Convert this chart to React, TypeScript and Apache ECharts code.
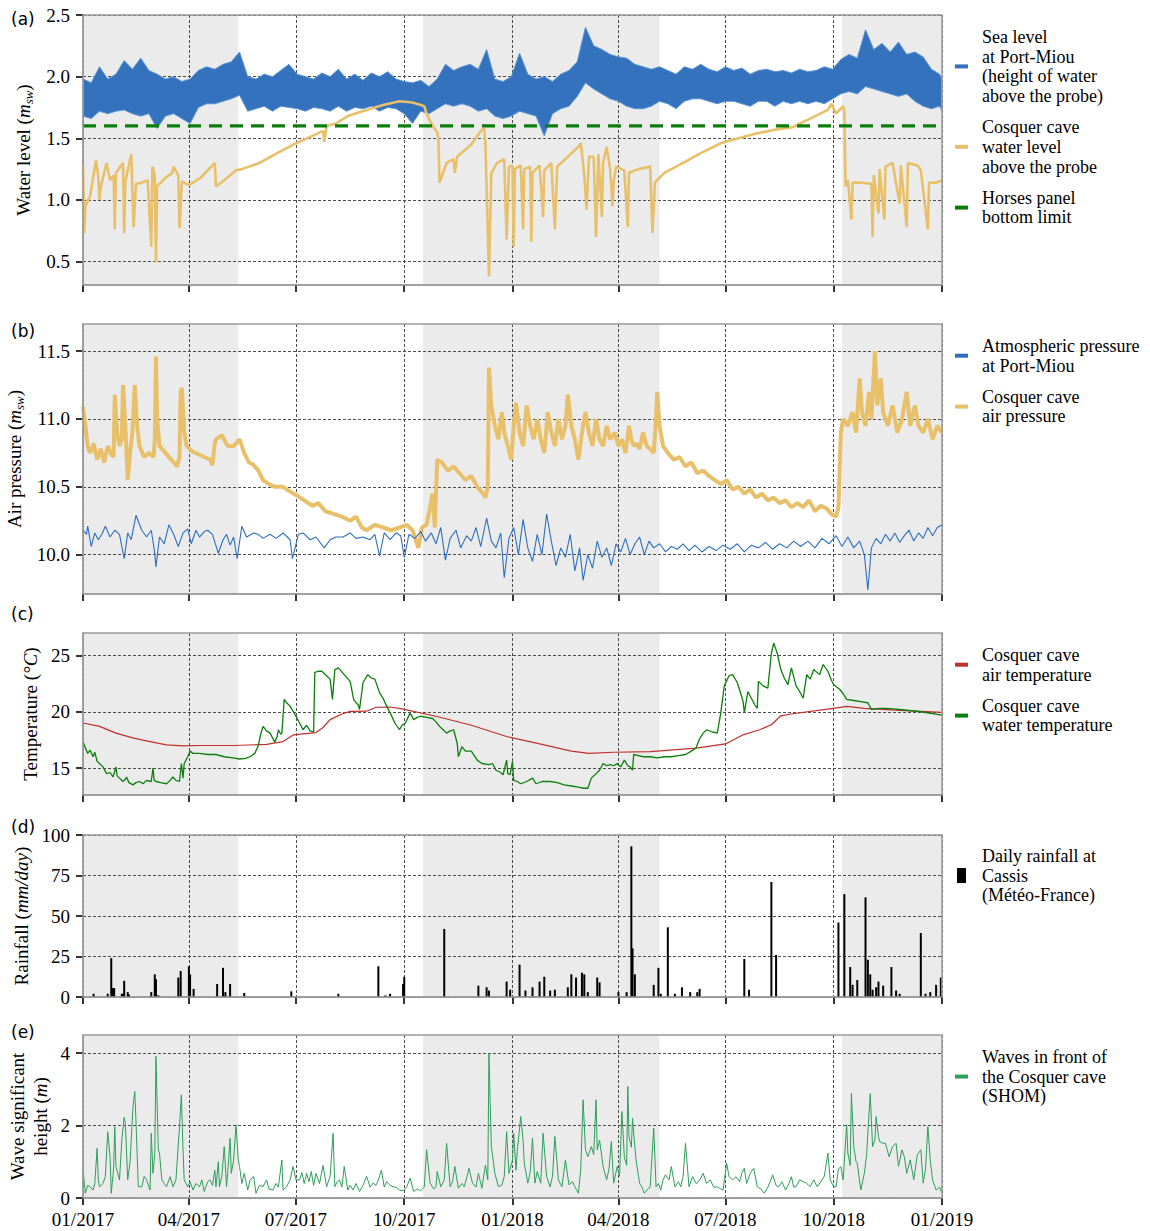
import React, { useEffect, useRef } from 'react';
import * as echarts from 'echarts';

const SERIF = "'Liberation Serif', 'Times New Roman', Times, serif";
const SANS = "'DejaVu Sans', 'Noto Sans', sans-serif";

// ---- x axis (days since 2017-01-01) ----
const quarterDays = [0, 90, 181, 273, 365, 455, 546, 638, 730];
const quarterLabels = ['01/2017', '04/2017', '07/2017', '10/2017', '01/2018', '04/2018', '07/2018', '10/2018', '01/2019'];
const shadeStart = [0, 289, 645];
const shadeEnd = [132, 490, 730];

// ---- y tick values ----
const yTicksA = [0.5, 1.0, 1.5, 2.0, 2.5];
const yTicksB = [10.0, 10.5, 11.0, 11.5];
const yTicksC = [15, 20, 25];
const yTicksD = [0, 25, 50, 75, 100];
const yTicksE = [0, 2, 4];

// ---- (a) water levels ----
const seaDays = [...Array(105).keys()].map((k) => k * 7).concat([730]);
const seaHigh = [
  1.98, 1.95, 2.08, 1.98, 2.02, 2.13, 2.06, 2.15, 2.05, 2.02,
  1.98, 2.00, 1.96, 1.98, 2.05, 2.08, 2.06, 2.10, 2.12, 2.20,
  2.00, 1.98, 2.02, 2.00, 2.05, 2.10, 2.02, 2.00, 1.98, 2.03,
  2.00, 2.06, 1.98, 2.02, 1.97, 2.03, 2.00, 2.04, 1.98, 1.96,
  1.95, 1.97, 1.92, 1.98, 2.10, 2.05, 2.08, 2.10, 2.06, 2.22,
  1.98, 1.96, 2.00, 2.19, 2.02, 1.98, 2.00, 1.96, 2.02, 2.05,
  2.12, 2.40, 2.25, 2.22, 2.18, 2.16, 2.15, 2.10, 2.08, 2.06,
  2.08, 2.05, 2.02, 2.08, 2.06, 2.10, 2.06, 2.04, 2.08, 2.05,
  2.07, 2.02, 2.05, 2.06, 2.04, 2.05, 2.03, 2.06, 2.04, 2.05,
  2.08, 2.06, 2.14, 2.18, 2.15, 2.38, 2.22, 2.27, 2.20, 2.28,
  2.18, 2.20, 2.16, 2.06, 2.02, 1.98,
];
const seaLow = [
  1.68, 1.66, 1.72, 1.70, 1.72, 1.73, 1.70, 1.68, 1.70, 1.58,
  1.68, 1.70, 1.66, 1.62, 1.75, 1.78, 1.78, 1.80, 1.82, 1.85,
  1.72, 1.74, 1.76, 1.72, 1.76, 1.75, 1.74, 1.72, 1.75, 1.74,
  1.72, 1.76, 1.72, 1.75, 1.74, 1.76, 1.72, 1.75, 1.74, 1.70,
  1.62, 1.72, 1.70, 1.74, 1.78, 1.76, 1.78, 1.76, 1.72, 1.74,
  1.68, 1.66, 1.68, 1.72, 1.70, 1.68, 1.52, 1.70, 1.74, 1.76,
  1.84, 1.95, 1.90, 1.86, 1.82, 1.80, 1.76, 1.74, 1.74, 1.76,
  1.80, 1.78, 1.74, 1.80, 1.82, 1.82, 1.80, 1.78, 1.80, 1.80,
  1.78, 1.76, 1.80, 1.80, 1.76, 1.80, 1.78, 1.80, 1.78, 1.80,
  1.78, 1.82, 1.86, 1.88, 1.86, 1.92, 1.90, 1.88, 1.86, 1.84,
  1.86, 1.80, 1.76, 1.74, 1.76, 1.72,
];
const caveWaterLevel = [
  [0, 1.27], [1, 0.73], [2, 0.95], [6, 1.03], [11, 1.32], [13, 1.19], [14, 1.0], [15, 1.1], [20, 1.30], [23, 1.16],
  [26, 1.2], [27, 0.76], [28, 1.22], [34, 1.3], [35, 0.73], [36, 1.15], [41, 1.37], [43, 0.78], [45, 1.13], [50, 1.14],
  [55, 1.16], [58, 0.62], [59, 1.27], [61, 1.2], [62, 0.49], [63, 1.11], [70, 1.18], [76, 1.22], [77, 1.27], [81, 1.2],
  [82, 0.77], [84, 1.15], [90, 1.12], [100, 1.18], [110, 1.28], [112, 1.30], [113, 1.11], [120, 1.16], [130, 1.24], [135, 1.25],
  [150, 1.3], [165, 1.38], [181, 1.46], [195, 1.52], [204, 1.56], [205, 1.47], [207, 1.6], [215, 1.62], [225, 1.68], [241, 1.73],
  [255, 1.77], [269, 1.8], [280, 1.79], [287, 1.77], [290, 1.76], [292, 1.70], [296, 1.62], [298, 1.59], [301, 1.55], [302, 1.5],
  [303, 1.14], [309, 1.30], [315, 1.33], [316, 1.22], [318, 1.35], [330, 1.45], [339, 1.57], [341, 1.58], [342, 1.45], [345, 0.38],
  [347, 1.22], [352, 1.3], [358, 1.33], [360, 0.68], [362, 1.27], [365, 1.28], [366, 0.62], [367, 1.25], [372, 1.28], [374, 0.76],
  [375, 1.25], [380, 1.27], [381, 0.66], [382, 1.22], [388, 1.28], [391, 0.86], [392, 1.24], [398, 1.3], [401, 0.76], [403, 1.27],
  [412, 1.35], [421, 1.43], [423, 1.46], [426, 1.2], [428, 0.92], [430, 1.35], [434, 1.35], [436, 0.70], [438, 1.37], [441, 0.86],
  [442, 1.3], [445, 1.43], [448, 1.25], [450, 0.95], [451, 1.15], [453, 1.27], [460, 1.24], [463, 0.78], [464, 1.22], [472, 1.25],
  [482, 1.27], [484, 0.73], [486, 1.14], [494, 1.22], [510, 1.3], [525, 1.38], [542, 1.46], [557, 1.5], [573, 1.54], [588, 1.57],
  [603, 1.59], [618, 1.66], [633, 1.73], [636, 1.78], [640, 1.70], [646, 1.76], [647, 1.72], [648, 1.11], [650, 1.16], [653, 0.84],
  [654, 1.14], [662, 1.14], [670, 1.13], [671, 0.70], [672, 1.2], [676, 0.89], [677, 1.25], [681, 0.84], [682, 1.27], [688, 1.3],
  [694, 0.97], [695, 1.28], [700, 0.78], [701, 1.3], [709, 1.28], [712, 1.24], [718, 0.76], [719, 1.14], [725, 1.14], [730, 1.16],
];
const horsesPanelLimit = [[0, 1.6], [730, 1.6]];

// ---- (b) pressures ----
const atmPressure = [
  [0, 10.18], [3, 10.15], [4, 10.21], [7, 10.06], [10, 10.16], [13, 10.11], [16, 10.15], [19, 10.21], [23, 10.13], [27, 10.18],
  [31, 10.15], [35, 9.97], [38, 10.16], [41, 10.11], [45, 10.29], [50, 10.18], [54, 10.13], [58, 10.18], [61, 10.01], [62, 9.91],
  [65, 10.13], [69, 10.08], [73, 10.22], [77, 10.15], [81, 10.06], [85, 10.16], [89, 10.19], [92, 10.08], [96, 10.18], [99, 10.13],
  [103, 10.17], [106, 10.18], [110, 10.15], [115, 10.01], [119, 10.11], [122, 10.15], [125, 10.07], [128, 10.13], [131, 9.97], [135, 10.21],
  [139, 10.13], [145, 10.16], [149, 10.15], [153, 10.12], [159, 10.15], [164, 10.12], [170, 10.16], [176, 10.11], [178, 9.97], [183, 10.15],
  [187, 10.16], [193, 10.11], [198, 10.13], [205, 10.05], [210, 10.11], [215, 10.13], [221, 10.13], [227, 10.16], [232, 10.12], [238, 10.13],
  [244, 10.11], [248, 10.15], [252, 9.99], [256, 10.16], [261, 10.11], [266, 10.16], [270, 10.14], [273, 9.98], [277, 10.15], [282, 10.12],
  [287, 10.17], [291, 10.1], [296, 10.16], [300, 10.08], [304, 10.2], [308, 9.96], [312, 10.12], [317, 10.18], [321, 10.05], [326, 10.14],
  [330, 10.1], [334, 10.2], [338, 10.06], [343, 10.27], [347, 10.1], [351, 10.05], [355, 10.16], [358, 9.83], [362, 10.12], [366, 10.2],
  [370, 10.0], [374, 10.26], [378, 10.05], [382, 9.95], [386, 10.15], [390, 10.0], [394, 10.3], [398, 10.1], [402, 9.92], [406, 10.05],
  [410, 9.98], [414, 10.15], [418, 9.88], [422, 10.05], [425, 9.81], [429, 10.0], [433, 9.9], [437, 10.1], [441, 9.98], [445, 10.05],
  [449, 9.92], [453, 10.08], [457, 10.02], [461, 10.12], [465, 10.0], [469, 10.08], [473, 10.13], [477, 10.0], [481, 10.1], [485, 10.05],
  [490, 10.08], [495, 10.02], [500, 10.06], [505, 10.04], [510, 10.08], [515, 10.03], [520, 10.07], [526, 10.02], [532, 10.06], [538, 10.03],
  [544, 10.07], [550, 10.04], [556, 10.08], [562, 10.02], [568, 10.07], [574, 10.05], [580, 10.09], [586, 10.04], [592, 10.08], [598, 10.05],
  [604, 10.1], [610, 10.06], [616, 10.1], [622, 10.05], [628, 10.12], [634, 10.08], [640, 10.14], [645, 10.06], [650, 10.13], [655, 10.05],
  [660, 10.1], [664, 10.0], [667, 9.74], [670, 10.05], [674, 10.12], [678, 10.08], [682, 10.15], [686, 10.1], [690, 10.16], [694, 10.09],
  [698, 10.14], [702, 10.18], [706, 10.1], [710, 10.16], [714, 10.12], [718, 10.2], [722, 10.14], [726, 10.2], [730, 10.22],
];
const caveAirPressure = [
  [0, 11.09], [2, 10.95], [4, 10.8], [6, 10.75], [9, 10.82], [12, 10.7], [15, 10.78], [18, 10.68], [21, 10.8], [24, 10.74],
  [26, 10.72], [27, 11.18], [29, 10.9], [31, 10.8], [33, 10.85], [34, 11.25], [36, 10.95], [38, 10.55], [40, 10.75], [42, 10.9],
  [44, 11.25], [46, 10.95], [48, 10.8], [52, 10.72], [56, 10.75], [60, 10.72], [61, 10.85], [62, 11.46], [63, 11.0], [65, 10.8],
  [70, 10.75], [75, 10.7], [80, 10.65], [82, 10.72], [83, 11.2], [84, 11.23], [86, 10.9], [88, 10.8], [93, 10.76], [98, 10.74],
  [103, 10.72], [108, 10.7], [110, 10.66], [112, 10.82], [113, 10.85], [118, 10.88], [123, 10.8], [128, 10.8], [133, 10.85], [137, 10.75],
  [141, 10.68], [145, 10.66], [149, 10.62], [153, 10.55], [158, 10.52], [163, 10.5], [170, 10.5], [175, 10.47], [181, 10.44], [188, 10.4],
  [195, 10.36], [200, 10.38], [206, 10.32], [213, 10.3], [220, 10.28], [227, 10.25], [232, 10.28], [237, 10.2], [241, 10.18], [248, 10.22],
  [255, 10.2], [262, 10.18], [269, 10.2], [275, 10.22], [280, 10.18], [285, 10.05], [288, 10.2], [292, 10.22], [295, 10.35], [297, 10.45],
  [299, 10.2], [301, 10.7], [305, 10.68], [310, 10.62], [315, 10.65], [320, 10.6], [325, 10.55], [330, 10.58], [335, 10.5], [340, 10.45],
  [342, 10.42], [344, 10.5], [345, 11.38], [347, 11.1], [350, 10.95], [353, 10.85], [356, 11.05], [358, 10.9], [361, 10.8], [364, 10.7],
  [366, 10.95], [368, 11.12], [371, 10.9], [374, 10.8], [377, 11.1], [380, 10.95], [383, 10.85], [386, 11.0], [389, 10.85], [392, 10.75],
  [395, 11.05], [398, 10.9], [401, 10.8], [404, 11.0], [407, 10.85], [410, 10.95], [412, 11.18], [415, 10.95], [418, 10.85], [421, 10.7],
  [424, 10.9], [427, 11.05], [430, 10.9], [433, 10.8], [436, 11.0], [439, 10.85], [442, 10.8], [445, 10.95], [448, 10.85], [452, 10.9],
  [455, 10.8], [458, 10.85], [461, 10.75], [464, 10.95], [466, 10.85], [468, 10.8], [470, 10.82], [473, 10.78], [476, 10.9], [479, 10.8],
  [482, 10.78], [485, 10.75], [487, 11.0], [488, 11.2], [490, 10.95], [493, 10.8], [497, 10.75], [502, 10.7], [507, 10.72], [512, 10.65],
  [517, 10.68], [522, 10.6], [527, 10.62], [532, 10.58], [537, 10.55], [542, 10.52], [547, 10.55], [552, 10.48], [557, 10.5], [562, 10.45],
  [567, 10.48], [572, 10.42], [577, 10.45], [582, 10.4], [587, 10.42], [592, 10.38], [597, 10.4], [602, 10.35], [607, 10.38], [612, 10.35],
  [617, 10.4], [622, 10.32], [627, 10.36], [632, 10.34], [636, 10.3], [640, 10.28], [642, 10.35], [644, 10.9], [646, 11.0], [650, 10.95],
  [654, 11.05], [657, 10.9], [660, 11.3], [662, 11.05], [665, 10.95], [668, 11.2], [670, 11.0], [673, 11.5], [675, 11.1], [678, 11.3],
  [680, 11.05], [684, 10.95], [688, 11.1], [692, 10.9], [696, 11.0], [700, 11.2], [703, 10.95], [707, 11.1], [710, 10.95], [714, 10.9],
  [718, 11.0], [722, 10.85], [726, 10.95], [730, 10.9],
];

// ---- (c) temperatures ----
const caveAirTemp = [
  [0, 19.0], [14, 18.7], [28, 18.1], [43, 17.65], [57, 17.35], [71, 17.05], [85, 16.96], [99, 17.0], [128, 17.0], [156, 17.1],
  [170, 17.35], [179, 17.95], [198, 18.15], [204, 18.6], [210, 19.3], [220, 19.8], [227, 20.03], [241, 20.05], [249, 20.4], [260, 20.42],
  [269, 20.3], [300, 19.6], [330, 18.8], [360, 17.8], [390, 17.1], [415, 16.5], [430, 16.3], [451, 16.4], [482, 16.46], [521, 16.76],
  [546, 17.14], [561, 17.95], [575, 18.4], [585, 18.84], [593, 19.64], [603, 19.82], [633, 20.24], [649, 20.48], [664, 20.3], [694, 20.12],
  [730, 19.94],
];
const caveWaterTemp = [
  [0, 17.35], [2, 16.8], [4, 16.3], [6, 16.6], [8.5, 16.0], [10, 16.4], [12, 15.6], [14, 15.4], [17, 15.1], [20, 14.5],
  [23, 14.6], [25.5, 14.2], [28, 15.1], [29, 14.3], [31, 14.1], [34, 13.8], [36, 14.0], [37, 14.2], [39, 13.7], [42.5, 13.5],
  [45, 13.7], [48, 13.8], [51, 13.6], [54, 13.9], [58, 13.8], [59.5, 15.0], [60.5, 13.9], [62, 13.8], [66, 13.7], [71, 13.6],
  [74, 13.9], [76.5, 14.2], [79, 13.9], [82, 13.8], [83.6, 15.4], [85, 14.1], [86, 15.4], [89, 16.0], [91, 16.5], [93.5, 16.3],
  [99, 16.3], [106, 16.2], [113, 16.2], [120, 16.0], [127.5, 15.9], [133, 15.8], [138, 15.85], [142, 16.0], [146, 16.3], [149, 17.0],
  [151, 18.0], [153, 18.7], [156, 18.3], [159, 18.1], [163, 17.3], [165, 17.8], [166, 18.4], [168, 18.0], [169, 18.1], [171, 21.1],
  [173, 20.8], [176, 20.5], [181, 19.6], [184, 19.0], [187, 18.4], [190, 18.8], [193, 18.3], [196, 18.2], [197, 23.5], [200, 23.6],
  [203, 23.6], [207, 23.2], [210, 22.9], [212, 21.1], [214, 23.75], [217, 23.9], [222, 23.3], [227, 22.7], [230, 21.1], [232, 20.8],
  [234, 20.6], [235, 20.2], [238, 22.6], [242, 23.3], [245, 23.0], [248, 22.9], [252, 21.7], [255, 21.2], [258, 20.5], [262, 19.7],
  [265, 19.0], [269, 18.4], [271, 18.8], [274, 19.0], [278, 19.9], [281, 19.3], [284, 19.5], [287, 19.6], [292, 19.5], [297, 19.4],
  [300, 19.1], [303, 18.7], [306, 18.4], [309, 18.1], [312, 18.3], [315, 18.4], [318, 17.2], [319, 16.0], [322, 16.9], [325, 16.5],
  [330, 16.5], [335, 15.7], [339, 15.4], [345, 15.3], [348, 15.4], [351, 14.8], [355, 14.6], [357, 14.4], [360, 15.7], [361, 14.5],
  [363, 14.4], [365, 15.6], [366, 13.9], [369, 13.8], [372, 13.6], [377, 13.8], [382, 14.1], [385, 13.6], [390, 13.8], [397, 13.8],
  [403, 13.7], [409, 13.5], [415, 13.4], [421, 13.3], [425, 13.2], [429, 13.2], [432, 14.1], [436, 14.5], [439, 14.8], [442, 15.4],
  [445, 15.2], [448, 15.3], [451, 15.2], [454, 15.4], [457, 15.1], [460, 15.7], [463, 15.2], [465, 15.1], [467, 14.8], [468, 16.2],
  [472, 16.1], [476, 16.0], [482, 16.0], [488, 15.9], [494, 16.0], [500, 16.0], [506, 16.1], [512, 16.2], [517, 16.5], [521, 16.8],
  [524, 17.6], [527, 18.1], [530, 18.4], [535, 18.2], [539, 18.1], [542, 19.9], [545, 22.3], [549, 23.2], [552, 23.3], [556, 22.6],
  [559, 21.6], [561, 20.9], [562, 19.9], [565, 21.8], [568, 21.2], [571, 20.6], [573, 20.3], [574, 22.7], [578, 22.3], [582, 22.1],
  [585, 25.2], [587, 26.1], [590, 25.2], [593, 23.75], [596, 23.0], [599, 22.4], [602, 23.9], [606, 22.3], [609, 21.8], [612, 21.2],
  [615, 23.3], [618, 22.9], [621, 23.75], [626, 23.3], [629, 24.2], [633, 23.6], [636, 22.8], [638, 22.4], [643, 22.0], [646, 21.6],
  [649, 21.1], [655, 21.0], [661, 20.9], [667, 20.8], [670, 20.2], [676, 20.3], [682, 20.3], [688, 20.25], [694, 20.2], [712, 20.0],
  [730, 19.7],
];

// ---- (d) rainfall ----
const rainfall = [
  [9, 2], [21, 2], [24, 24], [25.5, 5.5], [26.5, 5.5], [33, 2], [34, 2], [35, 10], [38, 3], [39, 1.5],
  [58, 3], [61, 14], [62, 11], [64, 1], [81, 12], [83, 16], [90, 19], [91, 14], [94, 5], [114, 8],
  [119, 18], [121, 3], [125, 8], [137, 2.5], [177, 3.5], [217, 2], [251, 19], [257, 1], [261, 2], [272, 8],
  [273, 12.5], [307, 42], [336, 7], [343, 6], [345, 4], [360, 9.5], [363, 4.5], [371, 20], [376, 4], [382, 6],
  [388, 9.5], [392, 12.5], [397, 4], [401, 4.5], [412, 6], [415, 14], [419, 12], [424, 15], [426, 14], [429, 3],
  [437, 12], [439, 9], [455, 3], [462, 3], [466, 93], [467, 30], [469, 14], [485, 7.5], [489, 18], [491, 2],
  [497, 43], [503, 2], [509, 6], [516, 3], [522, 3], [524, 5], [562, 23.5], [566, 4.5], [585, 71], [589, 26],
  [642, 46], [647, 63.5], [652, 18.5], [654, 7.5], [658, 10.5], [665, 61.5], [667, 23], [669, 14], [671, 4.5], [674, 6],
  [676, 9.5], [680, 7], [687, 18.5], [691, 4], [694, 2], [712, 39.5], [716, 2], [720, 3], [725, 7.5], [729, 12],
];

// ---- (e) waves ----
const waveHeight = [
  [0, 0.77], [2, 0.13], [4, 0.35], [6, 0.31], [8.5, 0.22], [10, 0.4], [12, 1.37], [13, 0.5], [14, 0.31], [17, 0.4],
  [19, 0.6], [21, 1.83], [23, 1.14], [24, 0.13], [26, 0.8], [27, 1.97], [28, 0.87], [31, 0.5], [33, 1.6], [35, 2.23],
  [36, 2.06], [38, 0.5], [40, 1.0], [42.5, 2.53], [44, 2.94], [45, 2.15], [47, 0.31], [50, 0.31], [52, 0.6], [54, 0.5],
  [57, 0.22], [58, 1.79], [59.5, 0.68], [61, 1.2], [62, 3.91], [64, 1.33], [65, 1.24], [67, 0.5], [69, 0.4], [71, 0.31],
  [74, 0.59], [76.5, 0.31], [79, 0.5], [82, 1.97], [83.6, 2.85], [85, 1.33], [86, 0.5], [89, 0.31], [91, 0.45], [93.5, 0.22],
  [96, 0.4], [99, 0.31], [101, 0.5], [103, 0.18], [106, 0.45], [108, 0.5], [110, 0.35], [112, 0.77], [113, 0.31], [115, 1.0],
  [116, 0.31], [118, 0.6], [120, 1.42], [122, 0.31], [123, 0.7], [125, 1.65], [126, 0.68], [128, 1.05], [130, 2.02], [132, 1.05],
  [133, 0.87], [135, 0.4], [137, 0.68], [140, 0.22], [142, 0.5], [145, 0.59], [147, 0.13], [150, 0.35], [153, 0.31], [156, 0.5],
  [158, 0.25], [161.5, 0.22], [164, 0.4], [166, 0.3], [169, 1.05], [170, 0.22], [173, 0.31], [176, 0.5], [178.5, 0.87], [181, 0.5],
  [184, 0.5], [186, 0.7], [188, 0.4], [190, 0.68], [192, 0.45], [194, 0.73], [196, 0.35], [198, 0.68], [201, 0.4], [204, 0.9],
  [207, 0.31], [210, 0.6], [212.5, 1.79], [214, 0.31], [216, 0.45], [218, 0.5], [220, 0.3], [222, 0.87], [225, 0.22], [227, 0.35],
  [229.5, 0.22], [232, 0.4], [235, 0.18], [238, 0.35], [241, 0.6], [244, 0.3], [246.5, 0.41], [249, 0.35], [251, 0.5], [253.6, 0.77],
  [256, 0.3], [258, 0.45], [261, 0.35], [263.5, 0.31], [266, 0.3], [269, 0.22], [272, 0.2], [275, 0.3], [278, 0.55], [281, 0.18],
  [284, 0.25], [287, 0.2], [290, 0.3], [292, 1.33], [295, 0.41], [298, 0.25], [300, 0.31], [301, 0.73], [304, 0.31], [307, 0.5],
  [309, 1.51], [312, 0.31], [314, 0.45], [316, 0.87], [319, 0.27], [322, 0.4], [324, 0.31], [326, 0.55], [328, 0.82], [331, 0.41],
  [334, 0.3], [336, 0.68], [339, 0.27], [342, 0.91], [344, 0.5], [345, 4.0], [347, 1.42], [348, 1.19], [350, 0.68], [353, 0.31],
  [356, 0.36], [358, 0.6], [360, 1.83], [362, 0.68], [365, 1.05], [366, 1.79], [368, 0.77], [369, 1.28], [372, 2.25], [374, 1.6],
  [375, 0.96], [378, 0.41], [380, 0.7], [382, 1.65], [384, 0.41], [386, 0.73], [389, 0.41], [391, 1.79], [394, 0.59], [397, 0.31],
  [399, 0.6], [401, 1.7], [404, 0.5], [407, 0.31], [410, 1.05], [413, 0.36], [416, 0.45], [418, 0.31], [421, 0.13], [423, 0.8],
  [425, 2.71], [427, 1.33], [429, 1.14], [432, 1.42], [434, 1.2], [436, 2.71], [437, 1.33], [439, 1.6], [442, 0.87], [445, 0.5],
  [447, 0.8], [449, 1.56], [451, 0.41], [454, 0.87], [456, 0.6], [458, 2.39], [460, 1.14], [462, 0.9], [463, 3.08], [464, 1.7],
  [466, 1.4], [467, 2.2], [468, 1.79], [470, 1.05], [473, 0.41], [475, 0.3], [477, 0.13], [480, 0.25], [482, 0.31], [485, 1.93],
  [487, 0.31], [489, 0.4], [491, 0.22], [493, 0.5], [495, 0.64], [498, 0.5], [500, 0.87], [503, 0.31], [506, 0.45], [508, 0.31],
  [510, 0.6], [512, 1.51], [515, 0.31], [518, 0.59], [521, 0.4], [523, 0.45], [525, 0.55], [527, 0.68], [530, 0.4], [533, 0.5],
  [536, 0.3], [539, 0.31], [542, 0.25], [544, 0.22], [547, 0.96], [549, 0.59], [552, 0.5], [555, 0.59], [558, 0.45], [560, 0.7],
  [562, 0.82], [564, 0.4], [567, 0.68], [570, 0.82], [573, 0.31], [576, 0.25], [579, 0.13], [582, 0.3], [584, 0.45], [586, 0.64],
  [589, 0.35], [591, 0.31], [594, 0.45], [597, 0.22], [600, 0.4], [602, 0.59], [604, 0.3], [606, 0.31], [609, 0.5], [612, 0.45],
  [615, 0.4], [618, 0.31], [621, 0.5], [624, 0.31], [627, 0.45], [630, 0.6], [633, 1.24], [635, 0.5], [638, 0.31], [640, 0.31],
  [642, 0.8], [644, 0.87], [646, 0.5], [649, 2.02], [650, 1.24], [652, 0.9], [653, 2.89], [655, 1.42], [657, 1.0], [658, 0.96],
  [661, 0.22], [664, 0.68], [666, 1.2], [667, 1.79], [669, 2.88], [671, 1.42], [673, 1.6], [674, 2.25], [676, 1.7], [677, 1.56],
  [680, 1.51], [682, 1.51], [685, 1.14], [688, 1.42], [691, 1.51], [693, 0.87], [696, 1.33], [698, 1.14], [700, 0.68], [703, 1.05],
  [706, 0.5], [709, 1.19], [712, 1.33], [714, 0.41], [716, 0.8], [718, 1.97], [720, 1.05], [722, 0.5], [725, 0.22], [728, 0.3],
  [730, 0.13],
];

// ---- series names ----
const N_SEA = 'Sea level\nat Port-Miou\n(height of water\nabove the probe)';
const N_CAVEWATER = 'Cosquer cave\nwater level\nabove the probe';
const N_HORSES = 'Horses panel\nbottom limit';
const N_ATM = 'Atmospheric pressure\nat Port-Miou';
const N_CAVEAIR = 'Cosquer cave\nair pressure';
const N_AIRT = 'Cosquer cave\nair temperature';
const N_WATERT = 'Cosquer cave\nwater temperature';
const N_RAIN = 'Daily rainfall at\nCassis\n(Météo-France)';
const N_WAVE = 'Waves in front of\nthe Cosquer cave\n(SHOM)';

const C_SEA = '#3472bd';
const C_SEA_EDGE = '#5b93d3';
const C_CAVE = '#e8c06a';
const C_HORSES = '#0a7d0a';
const C_ATM = '#2f6fbf';
const C_RED = '#c1302b';
const C_WATERT = '#0c7f0c';
const C_WAVE = '#2e9e5b';

function buildOption() {
  const boxes = [
    { top: 15, height: 270 },
    { top: 324, height: 270 },
    { top: 633, height: 162 },
    { top: 835, height: 162 },
    { top: 1035, height: 163 },
  ];
  const yMins = [0.31, 9.71, 12.6, 0, 0];
  const yMaxs = [2.5, 11.7, 27.0, 100, 4.5];
  const yTicks = [yTicksA, yTicksB, yTicksC, yTicksD, yTicksE];
  const yDec = [1, 1, 0, 0, 0];
  const yNames = [
    '{n|Water level (}{i|m}{s|sw}{n|)}',
    '{n|Air pressure (}{i|m}{s|sw}{n|)}',
    '{n|Temperature (}{i|°C}{n|)}',
    '{n|Rainfall (}{i|mm/day}{n|)}',
    '{n|Wave significant}\n{n|height (}{i|m}{n|)}',
  ];
  const yGaps = [39, 53, 37, 41, 31];

  const rich = {
    n: { fontFamily: SERIF, fontSize: 19, color: '#000', lineHeight: 23 },
    i: { fontFamily: SERIF, fontSize: 19, fontStyle: 'italic', color: '#000', lineHeight: 23 },
    s: { fontFamily: SERIF, fontSize: 13, fontStyle: 'italic', color: '#000', lineHeight: 13, verticalAlign: 'bottom' },
  };

  const grid = boxes.map((b) => ({
    left: 83, right: 208, top: b.top, height: b.height,
    outerBoundsMode: 'none', containLabel: false,
    show: true, borderColor: '#9a9a9a', borderWidth: 1.5, backgroundColor: 'transparent', z: 3,
  }));

  const splitStyle = { color: '#3a3a3a', width: 0.9, type: [3, 2] };

  const xAxis = boxes.map((_, i) => ({
    type: 'value', gridIndex: i, min: 0, max: 730, z: 1,
    axisLine: { show: true, lineStyle: { color: '#9a9a9a', width: 1.5 } },
    axisTick: { show: true, length: 7, customValues: quarterDays, lineStyle: { color: '#000', width: 1.6 } },
    axisLabel: {
      show: i === 4, customValues: quarterDays, margin: 12,
      formatter: (v: number) => { const k = quarterDays.indexOf(Math.round(v)); return k >= 0 ? quarterLabels[k] : ''; },
      fontFamily: SERIF, fontSize: 19, color: '#000',
    },
    splitLine: { show: true, lineStyle: splitStyle },
  }));

  const yAxis = boxes.map((_, i) => ({
    type: 'value', gridIndex: i, min: yMins[i], max: yMaxs[i], z: 1,
    name: yNames[i], nameLocation: 'middle', nameRotate: 90, nameGap: yGaps[i],
    nameTextStyle: { rich, fontFamily: SERIF, fontSize: 19, color: '#000' },
    axisLine: { show: true, lineStyle: { color: '#9a9a9a', width: 1.5 } },
    axisTick: { show: true, length: 7, customValues: yTicks[i], lineStyle: { color: '#000', width: 1.6 } },
    axisLabel: {
      customValues: yTicks[i], margin: 13,
      formatter: (v: number) => v.toFixed(yDec[i]),
      fontFamily: SERIF, fontSize: 19, color: '#000',
    },
    splitLine: { show: true, lineStyle: splitStyle },
  }));

  const shadeSeries = boxes.map((_, i) => ({
    type: 'custom', xAxisIndex: i, yAxisIndex: i, z: 0, silent: true,
    data: shadeStart.map((s, k) => [s, shadeEnd[k], yMins[i]]),
    encode: { x: [0, 1], y: 2 },
    renderItem: (params: any, api: any) => {
      const cs = params.coordSys;
      const x0 = api.coord([api.value(0), yMins[i]])[0];
      const x1 = api.coord([api.value(1), yMins[i]])[0];
      return { type: 'rect', shape: { x: x0, y: cs.y, width: x1 - x0, height: cs.height }, style: { fill: '#ebebeb' } };
    },
  }));

  const line = (name: string, gi: number, data: any, color: string, width: number, extra: any = {}) => ({
    type: 'line', name, xAxisIndex: gi, yAxisIndex: gi, data, symbol: 'none', showSymbol: false, z: 2,
    itemStyle: { color }, lineStyle: { color, width }, clip: true, ...extra,
  });

  const series: any[] = [
    ...shadeSeries,
    {
      type: 'custom', name: N_SEA, xAxisIndex: 0, yAxisIndex: 0, z: 2, clip: true,
      itemStyle: { color: C_SEA },
      data: seaDays.map((d, k) => [d, seaLow[k], seaHigh[k]]),
      encode: { x: 0, y: [1, 2] },
      renderItem: (params: any, api: any) => {
        if (params.dataIndex !== 0) return null;
        const upper = seaDays.map((d, k) => api.coord([d, seaHigh[k]]));
        const lower = seaDays.map((d, k) => api.coord([d, seaLow[k]])).reverse();
        return {
          type: 'polygon', shape: { points: upper.concat(lower) },
          style: { fill: C_SEA, stroke: C_SEA_EDGE, lineWidth: 1 },
        };
      },
    },
    line(N_CAVEWATER, 0, caveWaterLevel, C_CAVE, 2.6),
    line(N_HORSES, 0, horsesPanelLimit, C_HORSES, 3.2, { lineStyle: { color: C_HORSES, width: 3.2, type: [13, 8] } }),
    line(N_CAVEAIR, 1, caveAirPressure, C_CAVE, 4),
    line(N_ATM, 1, atmPressure, C_ATM, 1.1),
    line(N_AIRT, 2, caveAirTemp, C_RED, 1.2),
    line(N_WATERT, 2, caveWaterTemp, C_WATERT, 1.3),
    {
      type: 'bar', name: N_RAIN, xAxisIndex: 3, yAxisIndex: 3, data: rainfall, barWidth: 2, z: 2,
      itemStyle: { color: '#000' },
    },
    line(N_WAVE, 4, waveHeight, C_WAVE, 1),
  ];

  const legendText = { fontFamily: SERIF, fontSize: 18, lineHeight: 19.7, color: '#000', padding: [0, 0, 0, 9] };
  const mkLegend = (names: string[], colors: string[], top: number, extra: any = {}) => ({
    orient: 'vertical', left: 955, top, padding: 0, itemGap: 11.5, itemWidth: 13, itemHeight: 4,
    icon: 'rect', selectedMode: false, textStyle: legendText,
    data: names.map((n, k) => ({ name: n, icon: 'rect', itemStyle: { color: colors[k] } })),
    ...extra,
  });

  const legend = [
    mkLegend([N_SEA, N_CAVEWATER, N_HORSES], [C_SEA, C_CAVE, C_HORSES], 27),
    mkLegend([N_ATM, N_CAVEAIR], [C_ATM, C_CAVE], 336),
    mkLegend([N_AIRT, N_WATERT], [C_RED, C_WATERT], 645),
    mkLegend([N_RAIN], ['#000'], 846, { left: 957, itemWidth: 9, itemHeight: 15, textStyle: { ...legendText, padding: [0, 0, 0, 11] } }),
    mkLegend([N_WAVE], [C_WAVE], 1047),
  ];

  const panelLabel = (t: string, y: number) => ({
    type: 'text', x: 11, y, silent: true,
    style: { text: t, font: `17px ${SANS}`, fill: '#000', verticalAlign: 'middle', align: 'left' },
  });

  return {
    animation: false,
    backgroundColor: '#fff',
    grid, xAxis, yAxis, series, legend,
    graphic: [
      panelLabel('(a)', 19),
      panelLabel('(b)', 331),
      panelLabel('(c)', 614),
      panelLabel('(d)', 827),
      panelLabel('(e)', 1032),
    ],
  };
}

export default function App() {
  const ref = useRef<HTMLDivElement>(null);
  useEffect(() => {
    if (!ref.current) return;
    const chart = echarts.init(ref.current, null, { renderer: 'svg' });
    chart.setOption(buildOption() as any);
    return () => chart.dispose();
  }, []);
  return (
    <div
      ref={ref}
      style={{ position: 'fixed', left: 0, top: 0, width: 1150, height: 1231, background: '#fff' }}
    />
  );
}
